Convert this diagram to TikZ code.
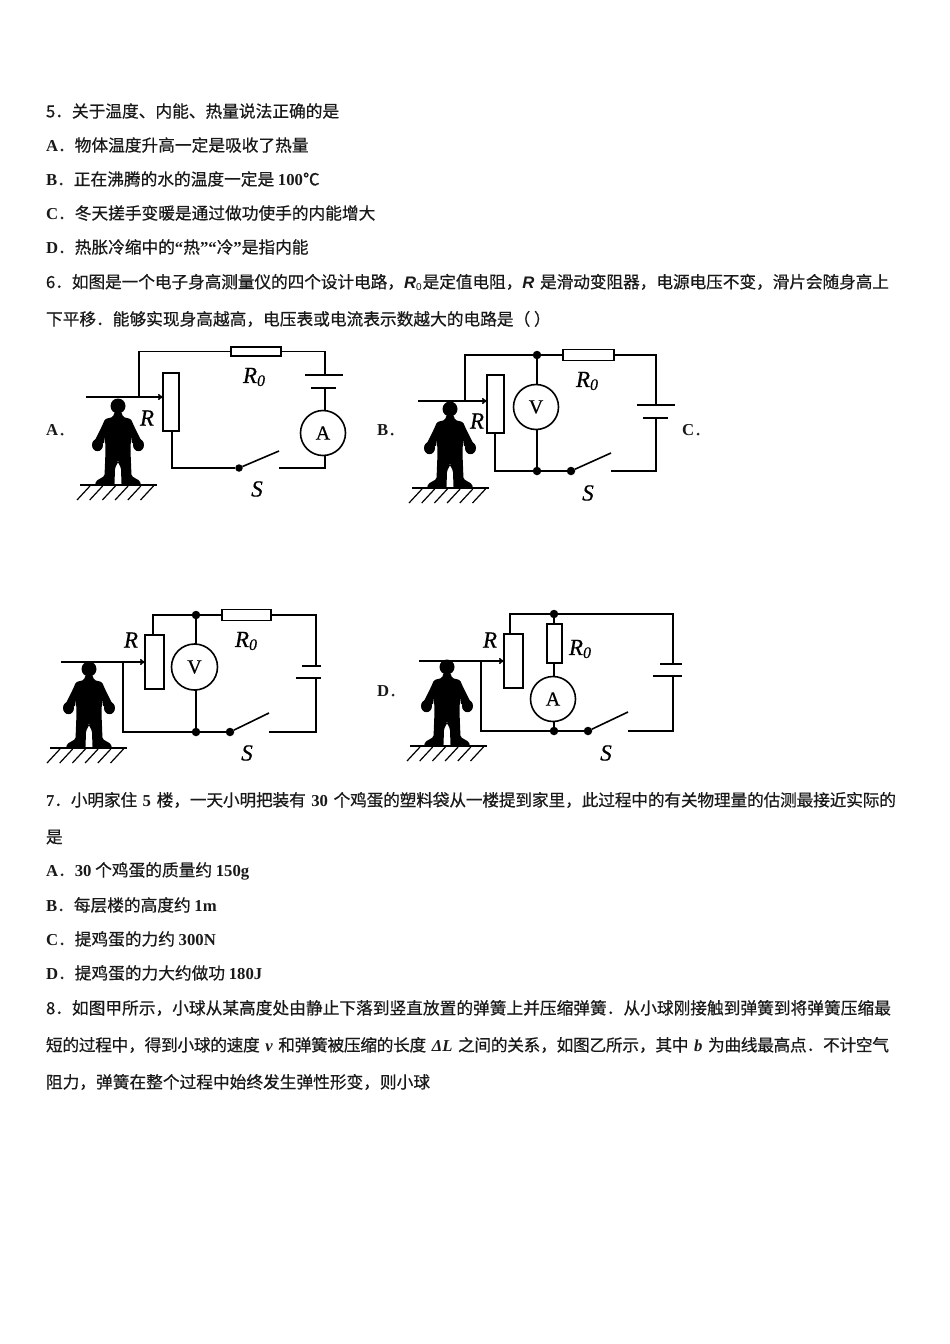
\documentclass[tikz,border=0pt]{standalone}
\usepackage{fontspec}
\setmainfont{Noto Sans CJK SC}[FakeBold=0.5]
\newfontfamily\srf{Liberation Serif}
\newfontfamily\srm{Liberation Serif}[FakeBold=0.5]
\newfontfamily\snf{Liberation Sans}
\usetikzlibrary{arrows.meta}
\newcommand\LB[1]{{\srf\bfseries #1}}
\newcommand\LI[1]{{\srf\bfseries\itshape #1}}
\newcommand\LS[1]{{\snf\bfseries\itshape #1}}
\newcommand\SYM[2]{{\srm\itshape #1}{\srm\itshape\fontsize{#2}{#2}\selectfont\raisebox{-3pt}{0}}}
\tikzset{
 txt/.style={anchor=west,inner sep=0pt,outer sep=0pt,font=\fontsize{16.7}{20}\selectfont,black!90},
 jtxt/.style={txt,text width=#1,execute at begin node={\parfillskip=0pt\tolerance=9999\hbadness=10000\hfuzz=5pt\XeTeXlinebreaklocale "zh"\XeTeXlinebreakskip=0pt plus 4pt minus 0.4pt\relax}},
 wire/.style={draw=black,line width=1.6pt,line join=miter},
 res/.style={draw=black,fill=white,line width=1.6pt,rectangle,inner sep=0pt,outer sep=0pt},
 meter/.style={draw=black,fill=white,line width=1.6pt,circle,minimum size=45pt,inner sep=0pt,outer sep=0pt,font=\srm\fontsize{20}{20}\selectfont},
 jdot/.style={circle,fill=black,inner sep=0pt,outer sep=0pt,minimum size=8.5pt},
 plate/.style={draw=black,line width=1.6pt},
 thick plate/.style={draw=black,line width=2.4pt},
 lab/.style={inner sep=0pt,outer sep=0pt,font=\srm\itshape\fontsize{23}{23}\selectfont},
 opt/.style={txt},
 slide/.style={draw=black,line width=1.6pt,-{To[length=5pt,width=6pt]}},
 person/.pic={
  \fill[black] (0,0) circle[x radius=7.5,y radius=7.5];
  \foreach \s in {1,-1}{
   \begin{scope}[xscale=\s]
    \fill[black,rounded corners=1.5pt] (-0.5,5) -- (3.5,6) -- (5,11) -- (13,13) -- (16,20) -- (24,36) -- (14,38) -- (13,30) -- (12.5,45) -- (13.5,70) -- (22,75) -- (23,79) -- (3.5,79) -- (3,62) -- (0,56) -- (-0.5,56) -- cycle;
    \fill[black] (20.5,39) circle[x radius=5.5,y radius=6.2];
   \end{scope}}
 },
 ground/.pic={
  \draw[black,line width=1.5pt] (0,0) -- (77,0);
  \foreach \k in {0,...,5}{\draw[black,line width=1.2pt] ({10+12.7*\k},1) -- ({-3+12.7*\k},15);}
 }
}
\begin{document}
\begin{tikzpicture}[x=1pt,y=-1pt]
\useasboundingbox[fill=white] (0,0) rectangle (950,1344);
% text lines
\node[txt] (t1) at (46,111) {5．关于温度、内能、热量说法正确的是};
\node[txt] (t2) at (46,145) {\LB{A}．物体温度升高一定是吸收了热量};
\node[txt] (t3) at (46,179) {\LB{B}．正在沸腾的水的温度一定是 \LB{100}℃};
\node[txt] (t4) at (46,213) {\LB{C}．冬天搓手变暖是通过做功使手的内能增大};
\node[txt] (t5) at (46,247) {\LB{D}．热胀冷缩中的\LB{“}热\LB{”“}冷\LB{”}是指内能};
\node[jtxt=843pt] (t6) at (46,282) {6．如图是一个电子身高测量仪的四个设计电路，\LS{R}{\snf\fontsize{10}{10}\selectfont\raisebox{-2pt}{0}}\kern1pt 是定值电阻，\LS{R} 是滑动变阻器，电源电压不变，滑片会随身高上};
\node[txt] (t7) at (46,319) {下平移．能够实现身高越高，电压表或电流表示数越大的电路是（ ）};
\node[jtxt=850pt] (t8) at (46,800) {\LB{7}．小明家住 \LB{5} 楼，一天小明把装有 \LB{30} 个鸡蛋的塑料袋从一楼提到家里，此过程中的有关物理量的估测最接近实际的};
\node[txt] (t9) at (46,837) {是};
\node[txt] (t10) at (46,871) {\LB{A}．\LB{30} 个鸡蛋的质量约 \LB{150g}};
\node[txt] (t11) at (46,905) {\LB{B}．每层楼的高度约 \LB{1m}};
\node[txt] (t12) at (46,939) {\LB{C}．提鸡蛋的力约 \LB{300N}};
\node[txt] (t13) at (46,973) {\LB{D}．提鸡蛋的力大约做功 \LB{180J}};
\node[jtxt=845pt] (t14) at (46,1008) {8．如图甲所示，小球从某高度处由静止下落到竖直放置的弹簧上并压缩弹簧．从小球刚接触到弹簧到将弹簧压缩最};
\node[jtxt=843pt] (t15) at (46,1045) {短的过程中，得到小球的速度 \LI{v} 和弹簧被压缩的长度 \LI{ΔL} 之间的关系，如图乙所示，其中 \LI{b} 为曲线最高点．不计空气};
\node[txt] (t16) at (46,1082) {阻力，弹簧在整个过程中始终发生弹性形变，则小球};
% Circuit A
\pic at (118,406) {person};
\pic at (80,485) {ground};
\node[opt] (oa) at (46,430) {\LB{A}．};
\node[res,minimum width=50pt,minimum height=9pt] (a0) at (256,351.5) {};
\node[res,minimum width=16pt,minimum height=58pt] (ar) at (171,402) {};
\node[meter] (am) at (323,433) {A};
\node[jdot,minimum size=7.5pt] (as) at (239,468) {};
\coordinate (atl) at (139,351.5); \coordinate (atr) at (325,351.5);
\coordinate (ab1) at (325,375); \coordinate (ab2) at (325,388);
\coordinate (abr) at (325,468); \coordinate (ae) at (279,468); \coordinate (abl) at (172,468);
\coordinate (abt) at (279,451); \coordinate (asl) at (86,397); \coordinate (asj) at (139,397);
\draw[wire] (asj) -- (atl) -- (a0.west);
\draw[wire] (a0.east) -- (atr) -- (ab1);
\draw[wire] (ab2) -- (am.north -| ab2);
\draw[wire] (am.south -| abr) -- (abr) -- (ae);
\draw[wire] (as) -- (abt);
\draw[wire] (as) -- (abl) -- (ar.south -| abl);
\draw[plate] (305,375) -- (343,375);
\draw[thick plate] (311,388) -- (336,388);
\draw[slide] (asl) -- (ar.west |- asl);
\node[lab] (ar1) at (147,418) {R};
\node[lab] (ar2) at (254,377) {\SYM{R}{16}};
\node[lab] (ar3) at (257,489) {S};
% Circuit B
\pic at (450,409) {person};
\pic at (412,488) {ground};
\node[opt] (ob) at (377,430) {\LB{B}．};
\node[opt] (oc) at (682,430) {\LB{C}．};
\node[res,minimum width=51pt,minimum height=11pt] (b0) at (588.5,355) {};
\node[res,minimum width=17pt,minimum height=58pt] (br) at (495.5,404) {};
\node[meter] (bv) at (536,407) {V};
\node[jdot] (bt) at (537,355) {};
\node[jdot] (bj) at (537,471) {};
\node[jdot] (bs) at (571,471) {};
\coordinate (btl) at (465,355); \coordinate (btr) at (656,355);
\coordinate (bb1) at (656,405); \coordinate (bb2) at (656,418);
\coordinate (bbr) at (656,471); \coordinate (be) at (611,471); \coordinate (bbl) at (495,471);
\coordinate (bbt) at (611,453); \coordinate (bsl) at (418,401); \coordinate (bsj) at (465,401);
\draw[wire] (bsj) -- (btl) -- (bt) -- (b0.west);
\draw[wire] (b0.east) -- (btr) -- (bb1);
\draw[wire] (bb2) -- (bbr) -- (be);
\draw[wire] (bs) -- (bbt);
\draw[wire] (bs) -- (bj) -- (bbl) -- (br.south -| bbl);
\draw[wire] (bt) -- (bv.north -| bt);
\draw[wire] (bv.south -| bj) -- (bj);
\draw[plate] (637,405) -- (675,405);
\draw[thick plate] (643,418) -- (668,418);
\draw[slide] (bsl) -- (br.west |- bsl);
\node[lab] (br1) at (477,421) {R};
\node[lab] (br2) at (587,381) {\SYM{R}{16}};
\node[lab] (br3) at (588,493) {S};
% Circuit C
\pic at (89,669) {person};
\pic at (50,748) {ground};
\node[res,minimum width=49pt,minimum height=11pt] (c0) at (246.5,615) {};
\node[res,minimum width=19pt,minimum height=54pt] (cr) at (154.5,662) {};
\node[meter,minimum size=46pt] (cv) at (194.5,667) {V};
\node[jdot] (ct) at (196,615) {};
\node[jdot] (cj) at (196,732) {};
\node[jdot] (cs) at (230,732) {};
\coordinate (ctl) at (153,615); \coordinate (ctr) at (316,615);
\coordinate (cb1) at (316,666); \coordinate (cb2) at (316,678);
\coordinate (cbr) at (316,732); \coordinate (ce) at (269,732); \coordinate (cbl) at (123,732);
\coordinate (cbt) at (269,713); \coordinate (csl) at (61,662); \coordinate (csj) at (123,662);
\draw[wire] (cr.north -| ctl) -- (ctl) -- (ct) -- (c0.west);
\draw[wire] (c0.east) -- (ctr) -- (cb1);
\draw[wire] (cb2) -- (cbr) -- (ce);
\draw[wire] (cs) -- (cbt);
\draw[wire] (cs) -- (cj) -- (cbl) -- (csj);
\draw[wire] (ct) -- (cv.north -| ct);
\draw[wire] (cv.south -| cj) -- (cj);
\draw[thick plate] (302,666) -- (321,666);
\draw[plate] (296,678) -- (321,678);
\draw[slide] (csl) -- (cr.west |- csl);
\node[lab] (cr1) at (131,640) {R};
\node[lab] (cr2) at (246,641) {\SYM{R}{16}};
\node[lab] (cr3) at (247,753) {S};
% Circuit D
\pic at (447,667) {person};
\pic at (410,746) {ground};
\node[opt] (od) at (377,691) {\LB{D}．};
\node[res,minimum width=15pt,minimum height=39pt] (d0) at (554.5,643.5) {};
\node[res,minimum width=19pt,minimum height=54pt] (dr) at (513.5,661) {};
\node[meter] (da) at (553,699) {A};
\node[jdot] (dt) at (554,614) {};
\node[jdot] (dj) at (554,731) {};
\node[jdot] (ds) at (588,731) {};
\coordinate (dtl) at (510,614); \coordinate (dtr) at (673,614);
\coordinate (db1) at (673,664); \coordinate (db2) at (673,676);
\coordinate (dbr) at (673,731); \coordinate (de) at (628,731); \coordinate (dbl) at (481,731);
\coordinate (dbt) at (628,712); \coordinate (dsl) at (419,661); \coordinate (dsj) at (481,661);
\draw[wire] (dr.north -| dtl) -- (dtl) -- (dtr) -- (db1);
\draw[wire] (db2) -- (dbr) -- (de);
\draw[wire] (ds) -- (dbt);
\draw[wire] (ds) -- (dbl) -- (dsj);
\draw[wire] (dt) -- (d0.north -| dt);
\draw[wire] (d0.south -| dt) -- (da.north -| dt);
\draw[wire] (da.south -| dj) -- (dj);
\draw[thick plate] (660,664) -- (682,664);
\draw[plate] (653,676) -- (682,676);
\draw[slide] (dsl) -- (dr.west |- dsl);
\node[lab] (dr1) at (490,640) {R};
\node[lab] (dr2) at (580,649) {\SYM{R}{16}};
\node[lab] (dr3) at (606,753) {S};
\end{tikzpicture}
\end{document}
